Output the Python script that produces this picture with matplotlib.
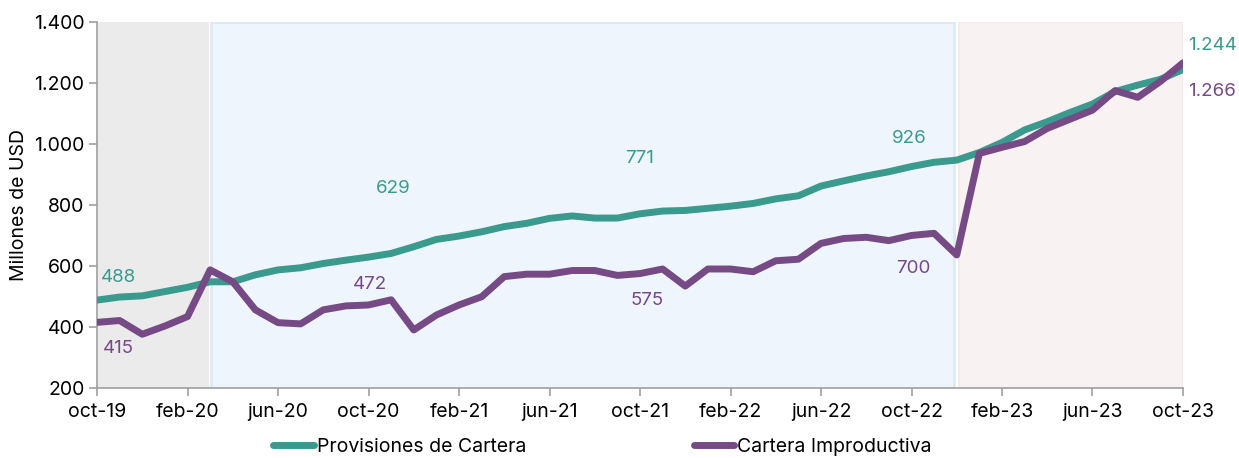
import numpy as np
import matplotlib.pyplot as plt
from matplotlib.ticker import FuncFormatter

plt.rcParams['font.family'] = ['Inter', 'DejaVu Sans']

# monthly data, oct-19 .. oct-23
months = np.arange(49)
tick_labels = ['oct-19', 'feb-20', 'jun-20', 'oct-20', 'feb-21', 'jun-21', 'oct-21',
               'feb-22', 'jun-22', 'oct-22', 'feb-23', 'jun-23', 'oct-23']

provisiones = [488, 498, 502, 516, 530, 548, 548, 571, 587, 594,
               608, 619, 629, 641, 663, 687, 698, 712, 729, 740,
               756, 764, 757, 757, 771, 780, 782, 789, 796, 805,
               820, 830, 862, 879, 895, 909, 926, 940, 947, 972,
               1005, 1046, 1073, 1103, 1131, 1172, 1193, 1212, 1244]

improductiva = [415, 421, 376, 403, 434, 587, 548, 456, 414, 410,
                456, 469, 472, 489, 390, 439, 472, 499, 565, 573,
                573, 585, 585, 569, 575, 590, 534, 590, 590, 581,
                617, 622, 674, 690, 694, 683, 700, 707, 636, 969,
                989, 1008, 1051, 1081, 1111, 1175, 1153, 1205, 1266]

# labelled points: (month index, x offset, y offset in data units)
prov_labels = [(0, 0.95, 73), (12, 1.1, 225), (24, 0, 180), (36, -0.1, 91), (48, 1.3, 78)]
impr_labels = [(0, 0.95, -86), (12, 0.05, 66), (24, 0.3, -88), (36, 0.1, -110), (48, 1.3, -95)]

teal = '#3a9a8e'
purple = '#764a85'

fig = plt.figure(figsize=(12.39, 4.58), dpi=100)
ax = fig.add_axes([0.0783, 0.153, 0.8765, 0.799])

# shaded periods
ax.axvspan(0, 4.95, color='#ebebeb', lw=0, zorder=0)
ax.axvspan(5.05, 37.9, facecolor='#eff5fd', edgecolor='#dfe9f5', lw=2, zorder=0)
ax.axvspan(38.1, 48, facecolor='#f9f2f3', edgecolor='#f3eaeb', lw=1.5, zorder=0)

ax.plot(months, provisiones, color=teal, lw=5, solid_capstyle='round',
        solid_joinstyle='round', label='Provisiones de Cartera', zorder=3)
ax.plot(months, improductiva, color=purple, lw=5, solid_capstyle='round',
        solid_joinstyle='round', label='Cartera Improductiva', zorder=4)

def fmt(v):
    return f'{v:,.0f}'.replace(',', '.')

for i, dx, dy in prov_labels:
    ax.text(i + dx, provisiones[i] + dy, fmt(provisiones[i]), color=teal,
            fontsize=13.5, ha='center', va='center', zorder=5)
for i, dx, dy in impr_labels:
    ax.text(i + dx, improductiva[i] + dy, fmt(improductiva[i]), color=purple,
            fontsize=13.5, ha='center', va='center', zorder=5)

ax.set_xlim(0, 48)
ax.set_ylim(200, 1400)
ax.set_xticks(np.arange(0, 49, 4))
ax.set_xticklabels(tick_labels)
ax.set_yticks(np.arange(200, 1401, 200))
ax.yaxis.set_major_formatter(FuncFormatter(lambda v, p: fmt(v)))
ax.tick_params(axis='both', labelsize=14, colors='#a0a0a0', labelcolor='black',
               length=6, width=1.2, direction='out')
ax.tick_params(axis='x', pad=5)
ax.tick_params(axis='y', pad=3)
for s in ['top', 'right']:
    ax.spines[s].set_visible(False)
for s in ['left', 'bottom']:
    ax.spines[s].set_color('#a0a0a0')
    ax.spines[s].set_linewidth(1.2)

ax.set_ylabel('Millones de USD', fontsize=14, labelpad=4)

ax.legend(loc='upper center', bbox_to_anchor=(0.4655, -0.1), ncol=2, frameon=False,
          fontsize=14, handlelength=2.1, handletextpad=0.15, columnspacing=8.6,
          borderpad=0.2)

fig.savefig('out.png', dpi=100)
